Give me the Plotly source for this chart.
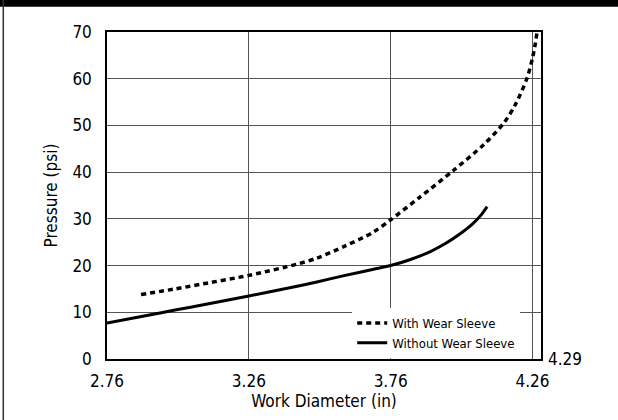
import plotly.graph_objects as go

# Work diameter (in) vs pressure (psi)
with_x = [2.88, 3.0, 3.1, 3.26, 3.43, 3.5, 3.6, 3.7, 3.76, 3.86, 3.98, 4.09, 4.16, 4.2, 4.24, 4.26, 4.27, 4.276]
with_y = [13.8, 15.0, 16.1, 17.9, 20.3, 21.6, 24.2, 27.2, 29.8, 34.5, 40.3, 46.0, 50.6, 54.5, 60.0, 64.4, 67.5, 70.0]

without_x = [2.76, 2.9, 3.0, 3.1, 3.26, 3.4, 3.5, 3.6, 3.7, 3.76, 3.83, 3.9, 3.95, 4.0, 4.05, 4.08, 4.1]
without_y = [7.7, 9.3, 10.5, 11.6, 13.5, 15.2, 16.5, 17.9, 19.2, 20.0, 21.3, 23.0, 24.6, 26.6, 29.0, 30.9, 32.6]

x_ticks = [2.76, 3.26, 3.76, 4.26]
y_ticks = [0, 10, 20, 30, 40, 50, 60, 70]

FONT = "DejaVu Sans Condensed, Liberation Sans Narrow, Arial Narrow, Liberation Sans, sans-serif"

fig = go.Figure()
fig.add_trace(go.Scatter(x=with_x, y=with_y, mode="lines", name="With Wear Sleeve",
                         line=dict(color="black", width=3.5, dash="5px,4px",
                                   shape="spline", smoothing=0.8)))
fig.add_trace(go.Scatter(x=without_x, y=without_y, mode="lines", name="Without Wear Sleeve",
                         line=dict(color="black", width=3, shape="spline", smoothing=0.8)))

fig.update_layout(
    width=618, height=420,
    margin=dict(l=107, r=77, t=32, b=61),
    paper_bgcolor="white", plot_bgcolor="white",
    font=dict(family=FONT, size=15, color="black"),
    showlegend=True,
    legend=dict(x=0.565, y=0.003, xanchor="left", yanchor="bottom", bgcolor="white",
                font=dict(size=13), tracegroupgap=0, itemwidth=30),
    xaxis=dict(range=[2.76, 4.29], tickvals=x_ticks, ticktext=[str(v) for v in x_ticks],
               showgrid=True, gridcolor="#555", gridwidth=1, zeroline=False,
               showline=True, linecolor="black", linewidth=1.5, mirror=True,
               ticks="", ticklabelstandoff=6, automargin=False, tickfont=dict(size=17),
               title=dict(text="Work Diameter (in)", standoff=4, font=dict(size=17))),
    yaxis=dict(range=[0, 70], tickvals=y_ticks, showgrid=True, gridcolor="#555", gridwidth=1,
               zeroline=False, showline=True, linecolor="black", linewidth=1.5, mirror=True,
               ticks="", ticklabelstandoff=10, automargin=False, tickfont=dict(size=17),
               title=dict(text="Pressure (psi)", standoff=10, font=dict(size=17))),
    annotations=[dict(x=4.29, y=0, xref="x", yref="y", text="4.29", showarrow=False,
                      xanchor="left", yanchor="middle", xshift=5, font=dict(size=17))],
    shapes=[
        dict(type="rect", xref="paper", yref="paper", x0=-0.3, x1=1.2, y0=1.077, y1=1.2,
             fillcolor="black", line=dict(width=0), layer="above"),
        dict(type="line", xref="paper", yref="paper", x0=-0.239, x1=-0.239, y0=-0.3, y1=1.1,
             line=dict(color="#333", width=1.5)),
    ],
)

fig.write_html("out.html", config={"displayModeBar": False},
               post_script="document.body.style.margin='0';")
